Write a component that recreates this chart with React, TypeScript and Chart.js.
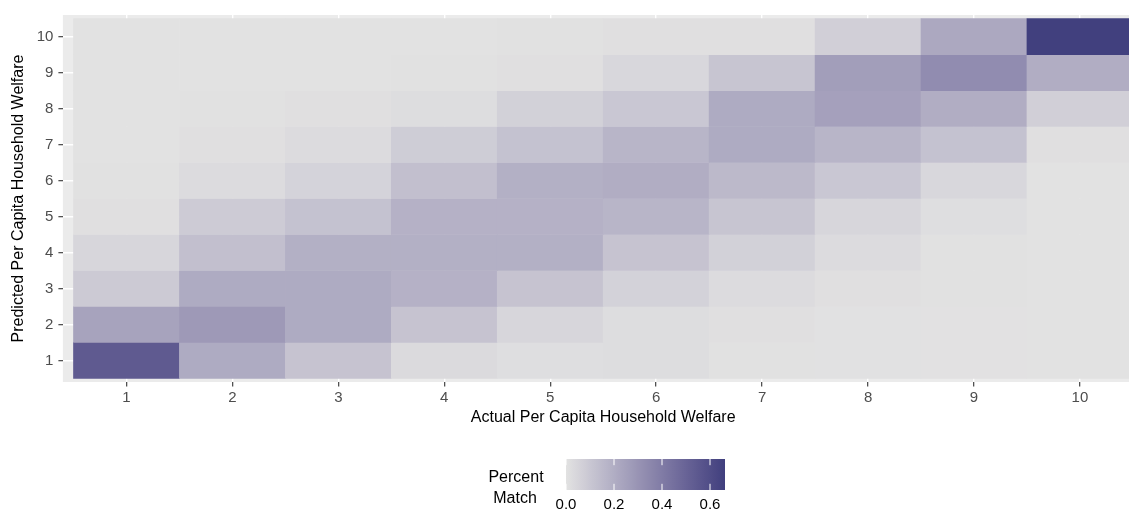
import React, { useEffect, useRef } from "react";
import { Chart, registerables } from "chart.js";

Chart.register(...registerables);

// ---- data ----
const actualDeciles = [1, 2, 3, 4, 5, 6, 7, 8, 9, 10];
const predictedDeciles = [1, 2, 3, 4, 5, 6, 7, 8, 9, 10];

// share of households in each predicted decile (row), by actual decile (columns 1..10)
const pred1 = [0.54, 0.21, 0.115, 0.03, 0.015, 0.02, 0.005, 0.003, 0.002, 0.001];
const pred2 = [0.24, 0.28, 0.21, 0.115, 0.045, 0.02, 0.01, 0.003, 0.002, 0.0];
const pred3 = [0.09, 0.21, 0.21, 0.185, 0.115, 0.06, 0.025, 0.01, 0.005, 0.0];
const pred4 = [0.045, 0.13, 0.19, 0.19, 0.19, 0.115, 0.065, 0.025, 0.005, 0.0];
const pred5 = [0.01, 0.085, 0.12, 0.185, 0.185, 0.17, 0.11, 0.045, 0.015, 0.0];
const pred6 = [0.005, 0.025, 0.055, 0.13, 0.19, 0.2, 0.155, 0.1, 0.04, 0.0];
const pred7 = [0.0, 0.01, 0.025, 0.08, 0.12, 0.17, 0.21, 0.17, 0.12, 0.01];
const pred8 = [0.0, 0.005, 0.01, 0.02, 0.065, 0.1, 0.21, 0.25, 0.2, 0.07];
const pred9 = [0.0, 0.0, 0.0, 0.005, 0.01, 0.04, 0.11, 0.26, 0.33, 0.2];
const pred10 = [0.0, 0.0, 0.0, 0.0, 0.005, 0.01, 0.01, 0.07, 0.22, 0.66];

const xTickValues = [1, 2, 3, 4, 5, 6, 7, 8, 9, 10];
const yTickValues = [1, 2, 3, 4, 5, 6, 7, 8, 9, 10];
const legendTicks = [0.0, 0.2, 0.4, 0.6];
const legendTitle = ["Percent", "Match"];
const xTitle = "Actual Per Capita Household Welfare";
const yTitle = "Predicted Per Capita Household Welfare";
const fillMin = 0.0;
const fillMax = 0.6625;

// ---- colour scale (Lab interpolation, like ggplot's gradient) ----
const LOW_RGB = [226, 226, 226];
const HIGH_RGB = [64, 63, 126];

const Xn = 0.95047, Yn = 1.0, Zn = 1.08883;
function toLin(c: number) {
  c /= 255;
  return c <= 0.04045 ? c / 12.92 : Math.pow((c + 0.055) / 1.055, 2.4);
}
function fromLin(c: number) {
  const v = c <= 0.0031308 ? 12.92 * c : 1.055 * Math.pow(c, 1 / 2.4) - 0.055;
  return Math.max(0, Math.min(255, Math.round(v * 255)));
}
function fLab(t: number) {
  return t > 0.008856 ? Math.cbrt(t) : 7.787 * t + 16 / 116;
}
function fInv(t: number) {
  const t3 = t * t * t;
  return t3 > 0.008856 ? t3 : (t - 16 / 116) / 7.787;
}
function rgbToLab(rgb: number[]) {
  const r = toLin(rgb[0]), g = toLin(rgb[1]), b = toLin(rgb[2]);
  const X = 0.4124 * r + 0.3576 * g + 0.1805 * b;
  const Y = 0.2126 * r + 0.7152 * g + 0.0722 * b;
  const Z = 0.0193 * r + 0.1192 * g + 0.9505 * b;
  const fx = fLab(X / Xn), fy = fLab(Y / Yn), fz = fLab(Z / Zn);
  return [116 * fy - 16, 500 * (fx - fy), 200 * (fy - fz)];
}
function labToRgb(lab: number[]) {
  const fy = (lab[0] + 16) / 116;
  const fx = fy + lab[1] / 500;
  const fz = fy - lab[2] / 200;
  const X = fInv(fx) * Xn, Y = fInv(fy) * Yn, Z = fInv(fz) * Zn;
  const r = 3.2406 * X - 1.5372 * Y - 0.4986 * Z;
  const g = -0.9689 * X + 1.8758 * Y + 0.0415 * Z;
  const b = 0.0557 * X - 0.204 * Y + 1.057 * Z;
  return [fromLin(r), fromLin(g), fromLin(b)];
}
const LOW_LAB = rgbToLab(LOW_RGB);
const HIGH_LAB = rgbToLab(HIGH_RGB);
function colorFor(v: number) {
  const t = Math.max(0, Math.min(1, (v - fillMin) / (fillMax - fillMin)));
  const lab = [0, 1, 2].map((i) => LOW_LAB[i] + (HIGH_LAB[i] - LOW_LAB[i]) * t);
  const c = labToRgb(lab);
  return `rgb(${c[0]},${c[1]},${c[2]})`;
}

const FONT = "'Liberation Sans', Arial, Helvetica, sans-serif";

export default function App() {
  const ref = useRef<HTMLCanvasElement>(null);

  useEffect(() => {
    if (!ref.current) return;
    const rows = [pred1, pred2, pred3, pred4, pred5, pred6, pred7, pred8, pred9, pred10];
    const points: any[] = [];
    const colors: string[] = [];
    rows.forEach((row, ri) => {
      row.forEach((v, ci) => {
        const p = predictedDeciles[ri];
        points.push({ x: actualDeciles[ci], y: [p - 0.5, p + 0.5] });
        colors.push(colorFor(v));
      });
    });

    const panelBg = {
      id: "panelBg",
      beforeDraw(chart: any) {
        const { ctx, chartArea } = chart;
        ctx.save();
        ctx.fillStyle = "#EBEBEB";
        ctx.fillRect(chartArea.left, chartArea.top, chartArea.right - chartArea.left, chartArea.bottom - chartArea.top);
        ctx.restore();
      },
    };

    const fillLegend = {
      id: "fillLegend",
      afterDraw(chart: any) {
        const { ctx } = chart;
        const bx = 566, by = 459, bw = 159, bh = 31;
        ctx.save();
        const grad = ctx.createLinearGradient(bx, 0, bx + bw, 0);
        for (let i = 0; i <= 40; i++) {
          const t = i / 40;
          grad.addColorStop(t, colorFor(fillMin + t * (fillMax - fillMin)));
        }
        ctx.fillStyle = grad;
        ctx.fillRect(bx, by, bw, bh);
        ctx.strokeStyle = "#FFFFFF";
        ctx.lineWidth = 1;
        ctx.font = `15px ${FONT}`;
        ctx.textAlign = "center";
        ctx.textBaseline = "alphabetic";
        legendTicks.forEach((v) => {
          const x = bx + ((v - fillMin) / (fillMax - fillMin)) * bw;
          ctx.beginPath();
          ctx.moveTo(x, by);
          ctx.lineTo(x, by + bh / 5);
          ctx.moveTo(x, by + bh);
          ctx.lineTo(x, by + bh - bh / 5);
          ctx.stroke();
          ctx.fillStyle = "#000000";
          ctx.fillText(v.toFixed(1), x, 509);
        });
        ctx.font = `16px ${FONT}`;
        ctx.fillStyle = "#000000";
        ctx.fillText(legendTitle[0], 516, 481.5);
        ctx.fillText(legendTitle[1], 515, 503);
        ctx.restore();
      },
    };

    const gridOpts = {
      color: "#FFFFFF",
      lineWidth: 1.4,
      tickColor: "#333333",
      tickWidth: 1.1,
      tickLength: 4.5,
      drawTicks: true,
      offset: false,
    };

    const chart = new Chart(ref.current, {
      type: "bar",
      data: {
        datasets: [
          {
            data: points,
            backgroundColor: colors,
            borderWidth: 0,
            grouped: false,
            categoryPercentage: 1,
            barPercentage: 1,
          } as any,
        ],
      },
      options: {
        animation: false,
        responsive: false,
        events: [],
        layout: { padding: { left: 9.4, top: 15, right: 6.5, bottom: 83 } },
        plugins: { legend: { display: false }, tooltip: { enabled: false } },
        scales: {
          x: {
            type: "linear",
            offset: false,
            min: 0.4,
            max: 10.6,
            afterBuildTicks: (axis: any) => {
              axis.ticks = xTickValues.map((v) => ({ value: v }));
            },
            afterFit: (axis: any) => {
              axis.height = 45;
            },
            grid: gridOpts,
            border: { display: false },
            ticks: {
              color: "#4D4D4D",
              font: { size: 15, family: FONT },
              padding: 2,
              maxRotation: 0,
              autoSkip: false,
              callback: (v: any) => String(v),
            },
            title: {
              display: true,
              text: xTitle,
              color: "#000000",
              font: { size: 16, family: FONT },
              padding: { top: 0, bottom: 0 },
            },
          },
          y: {
            type: "linear",
            offset: false,
            min: 0.4,
            max: 10.6,
            afterBuildTicks: (axis: any) => {
              axis.ticks = yTickValues.map((v) => ({ value: v }));
            },
            afterFit: (axis: any) => {
              axis.width = 53.5;
            },
            grid: gridOpts,
            border: { display: false },
            ticks: {
              color: "#4D4D4D",
              font: { size: 15, family: FONT },
              padding: 5,
              autoSkip: false,
              callback: (v: any) => String(v),
            },
            title: {
              display: true,
              text: yTitle,
              color: "#000000",
              font: { size: 16, family: FONT },
              padding: { top: 0, bottom: 0 },
            },
          },
        },
      },
      plugins: [panelBg, fillLegend],
    } as any);

    return () => chart.destroy();
  }, []);

  return (
    <div
      style={{
        position: "fixed",
        left: 0,
        top: 0,
        width: 1129,
        height: 510,
        overflow: "hidden",
        background: "#FFFFFF",
      }}
    >
      <canvas ref={ref} width={1150} height={510} style={{ width: 1150, height: 510, display: "block" }} />
    </div>
  );
}
